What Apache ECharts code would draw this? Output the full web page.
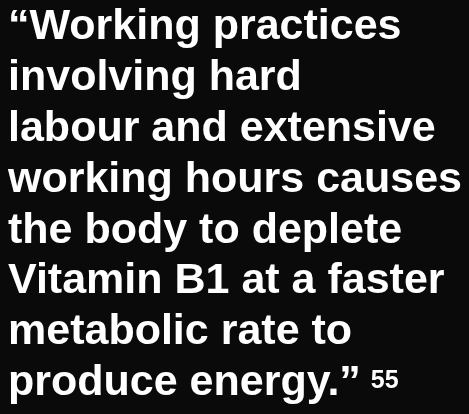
<!DOCTYPE html>
<html>
<head>
<meta charset="utf-8">
<script src="https://cdn.jsdelivr.net/npm/echarts@6/dist/echarts.min.js"></script>
<style>
  html, body { margin: 0; padding: 0; background: #0a0a0a; }
  #quote { width: 469px; height: 414px; }
</style>
</head>
<body>
<div id="quote"></div>
<script>
// quote text, one entry per line
const quoteLines = [
    '\u201CWorking practices',
    'involving hard',
    'labour and extensive',
    'working hours causes',
    'the body to deplete',
    'Vitamin B1 at a faster',
    'metabolic rate to',
    'produce energy.\u201D'
];
const footnote = '55';

const chart = echarts.init(document.getElementById('quote'));

const fam = '"Liberation Sans", Arial, sans-serif';
const lineGap = 50.8;
const elements = quoteLines.map(function (line, i) {
    const isLast = i === quoteLines.length - 1;
    return {
        type: 'text',
        left: 8,
        top: 6 + i * lineGap,
        style: {
            text: isLast ? '{m|' + line + '}{s|' + footnote + '}' : line,
            fill: '#ffffff',
            font: 'bold 43px ' + fam,
            rich: {
                m: { fontSize: 43, fontWeight: 'bold', fontFamily: fam, fill: '#ffffff' },
                s: { fontSize: 25, fontWeight: 'bold', fontFamily: fam, fill: '#ffffff', verticalAlign: 'top', padding: [7, 0, 0, 10] }
            }
        }
    };
});

chart.setOption({
    backgroundColor: '#0a0a0a',
    graphic: elements
});
</script>
</body>
</html>
